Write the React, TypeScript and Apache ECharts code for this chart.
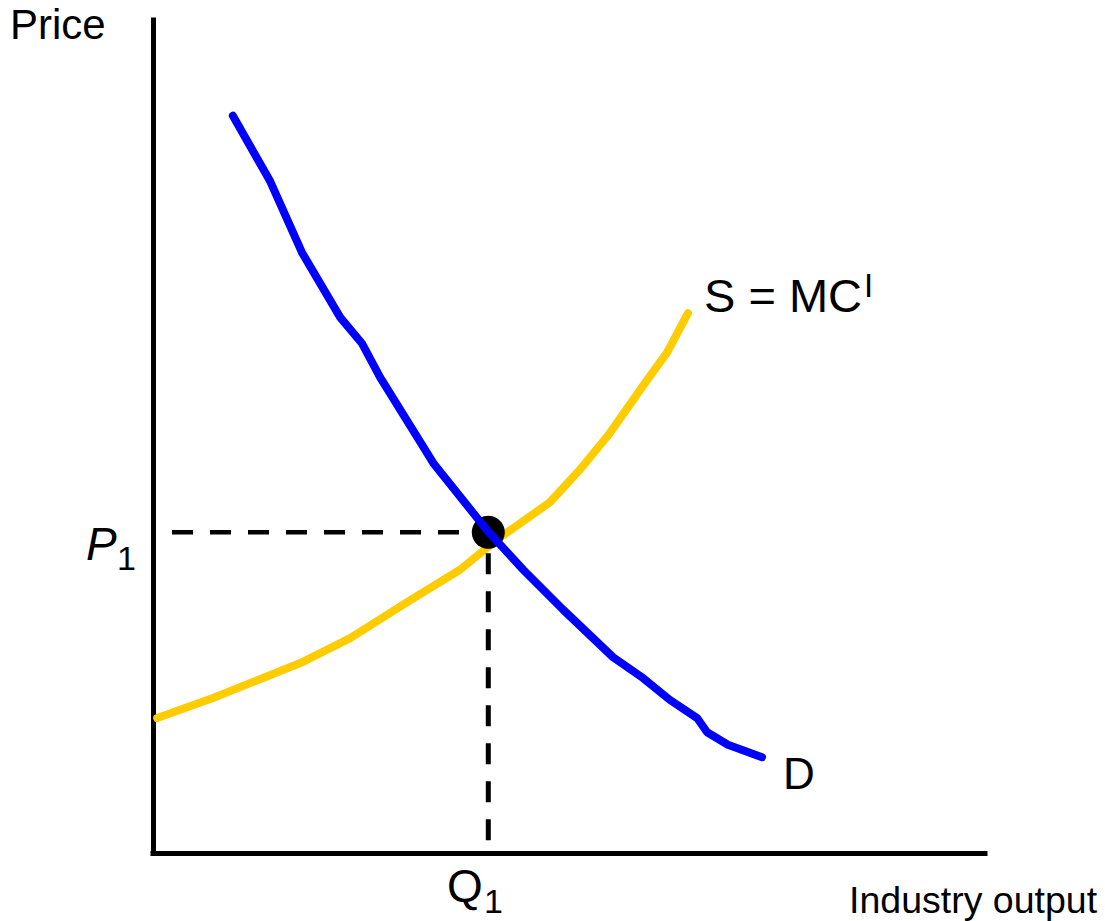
import React, { useEffect, useRef } from "react";
import * as echarts from "echarts";

// Demand curve D (quantity, price) (0..100 scale)
const DEMAND_Q = [9.6, 14.1, 17.9, 22.5, 25.1, 27.3, 33.7, 40.1, 44.5, 49.3, 55.3, 58.9, 62.1, 65.4, 66.6, 69.1, 73.2];
const DEMAND_P = [88.5, 80.6, 72.1, 64.3, 61.2, 57.1, 46.8, 38.8, 34.0, 29.2, 23.5, 21.0, 18.4, 16.2, 14.5, 13.0, 11.5];

// Supply curve S = MC^I
const SUPPLY_Q = [0.5, 7.2, 17.7, 23.7, 30.5, 36.9, 41.3, 47.7, 51.3, 54.9, 59.4, 61.8, 64.3];
const SUPPLY_P = [16.2, 18.6, 22.8, 25.8, 30.1, 34.0, 37.6, 42.1, 46.0, 50.4, 56.8, 60.1, 64.8];

// Equilibrium
const EQ_Q = 40.3;
const EQ_P = 38.5;

const AXIS_X_TITLE = "Industry output";
const AXIS_Y_TITLE = "Price";
const SUPPLY_LABEL = "S = MC";
const SUPPLY_SUP = "I";
const DEMAND_LABEL = "D";

const FONT = '"Liberation Sans", Arial, Helvetica, sans-serif';

function txt(x: number, y: number, text: string, fontSize: number, italic = false) {
  return {
    type: "text",
    x,
    y,
    silent: true,
    style: {
      text,
      fontSize,
      fontFamily: FONT,
      fontStyle: italic ? "italic" : "normal",
      fill: "#000",
      textFill: "#000",
      align: "left",
      textAlign: "left",
      verticalAlign: "middle",
      textVerticalAlign: "middle",
    },
  };
}

export default function App() {
  const ref = useRef<HTMLDivElement>(null);

  useEffect(() => {
    if (!ref.current) return;
    const chart = echarts.init(ref.current, undefined, { renderer: "svg" });

    const demand = DEMAND_Q.map((q, i) => [q, DEMAND_P[i]]);
    const supply = SUPPLY_Q.map((q, i) => [q, SUPPLY_P[i]]);

    const axisCommon = {
      type: "value",
      min: 0,
      max: 100,
      axisLine: { show: true, onZero: false, lineStyle: { color: "#000", width: 5, cap: "square" } },
      axisTick: { show: false },
      axisLabel: { show: false },
      splitLine: { show: false },
    };

    chart.setOption({
      animation: false,
      backgroundColor: "#fff",
      grid: { left: 153, top: 20, width: 832, height: 833, containLabel: false },
      xAxis: { ...axisCommon },
      yAxis: { ...axisCommon },
      series: [
        {
          name: "S",
          type: "line",
          data: supply,
          smooth: false,
          symbol: "none",
          z: 2,
          lineStyle: { color: "#FFCC00", width: 8, cap: "round", join: "round" },
        },
        {
          name: "P1 guide",
          type: "line",
          data: [[0, EQ_P], [EQ_Q, EQ_P]],
          symbol: "none",
          z: 3,
          lineStyle: { color: "#000", width: 4.5, type: [21, 17], dashOffset: 19, cap: "butt" },
        },
        {
          name: "Q1 guide",
          type: "line",
          data: [[EQ_Q, EQ_P], [EQ_Q, 0]],
          symbol: "none",
          z: 3,
          lineStyle: { color: "#000", width: 5, type: [21, 17], dashOffset: 17, cap: "butt" },
        },
        {
          name: "Equilibrium",
          type: "scatter",
          data: [[EQ_Q, EQ_P]],
          symbol: "circle",
          symbolSize: 33,
          z: 4,
          itemStyle: { color: "#000", opacity: 1 },
        },
        {
          name: "D",
          type: "line",
          data: demand,
          smooth: false,
          symbol: "none",
          z: 5,
          lineStyle: { color: "#0000FF", width: 8, cap: "round", join: "round" },
        },
      ],
      graphic: [
        txt(10, 24, AXIS_Y_TITLE, 42),
        txt(849, 900, AXIS_X_TITLE, 37.5),
        txt(704, 295, SUPPLY_LABEL, 47),
        txt(864, 285, SUPPLY_SUP, 33),
        txt(783, 773, DEMAND_LABEL, 44),
        txt(86, 544, "P", 46, true),
        txt(117, 558, "1", 34),
        txt(447, 886, "Q", 46),
        txt(484, 901, "1", 34),
      ],
    });

    return () => chart.dispose();
  }, []);

  return (
    <div
      ref={ref}
      style={{ position: "absolute", left: 0, top: 0, width: 1105, height: 921, background: "#fff" }}
    />
  );
}
